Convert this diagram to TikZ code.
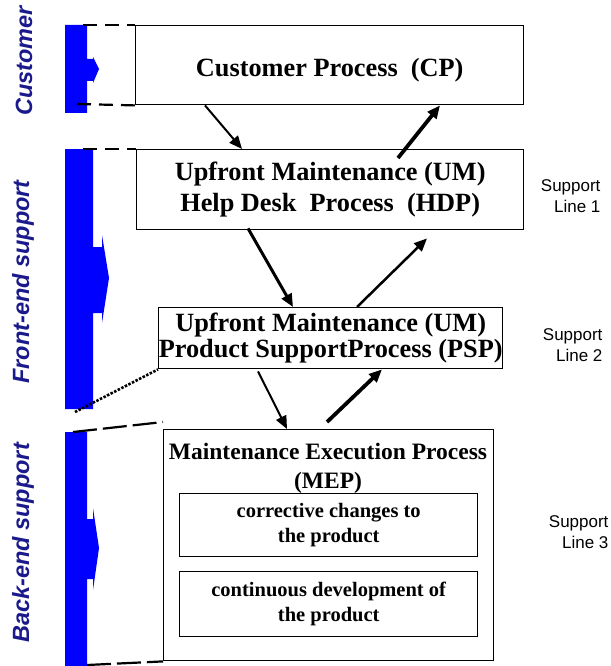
\documentclass[tikz,border=0pt]{standalone}
\usepackage{fontspec}
\setmainfont{Liberation Serif}
\newfontfamily\arialfont{Liberation Sans}
\usetikzlibrary{arrows.meta,calc}
\definecolor{barblue}{RGB}{0,0,255}
\definecolor{labelnavy}{RGB}{26,26,140}

\begin{document}
\begin{tikzpicture}[x=1pt,y=-1pt,
  procbox/.style={draw,line width=1.4pt,inner sep=0pt,anchor=north west,align=center},
  bigtext/.style={font=\bfseries\fontsize{26.3}{31}\selectfont},
  flow/.style={line width=#1,-{Triangle[length=13pt,width=11pt]}},
  phasebar/.style={fill=barblue,draw=none},
  phaselabel/.style={rotate=90,text=labelnavy,font=\arialfont\bfseries\itshape\fontsize{23.5}{26}\selectfont},
  linelabel/.style={align=right,anchor=east,font=\arialfont\fontsize{17}{21}\selectfont},
  bracketdash/.style={line width=2.2pt,dash pattern=on 14pt off 8pt},
  bracketlong/.style={line width=2.2pt,dash pattern=on 24pt off 6pt},
  bracketdot/.style={line width=2.6pt,dash pattern=on 2.5pt off 1.5pt}
]
\useasboundingbox (0,0) rectangle (610,666);

% process boxes
\node[procbox,bigtext,minimum width=388pt,minimum height=79pt] (cp) at (135,25)
  {\raisebox{-11.5pt}[0pt][0pt]{Customer Process\ \ (CP)}};
\node[procbox,bigtext,minimum width=387pt,minimum height=80pt] (hdp) at (136,149)
  {Upfront Maintenance (UM)\\Help Desk\ \ Process\ \ (HDP)};
\node[procbox,font=\bfseries\fontsize{26.3}{26.5}\selectfont,minimum width=344pt,minimum height=61pt] (psp) at (158,307)
  {Upfront Maintenance (UM)\\Product SupportProcess (PSP)};
\node[procbox,minimum width=330pt,minimum height=231pt] (mep) at (163,429) {};
\node[font=\bfseries\fontsize{23.5}{29}\selectfont,align=center] (meptitle) at (328,468)
  {Maintenance Execution Process\\(MEP)};
\node[procbox,font=\bfseries\fontsize{20.5}{24.5}\selectfont,minimum width=298pt,minimum height=63pt] (corr) at (179,493)
  {corrective changes to\\the product};
\node[procbox,font=\bfseries\fontsize{20.5}{24.5}\selectfont,minimum width=298pt,minimum height=65pt] (cont) at (179,571)
  {continuous development of\\the product};

% phase bars with their arrows
\fill[phasebar] (65,25) -- (87,25) -- (87,59) -- (93,59) -- (93,57) -- (99,69) -- (93,83)
  -- (93,81) -- (87,81) -- (87,113) -- (65,113) -- cycle;
\fill[phasebar] (65,149) -- (93,149) -- (93,247) -- (102,247) -- (102,235) -- (109,278) -- (102,323)
  -- (102,313) -- (93,313) -- (93,409) -- (65,409) -- cycle;
\fill[phasebar] (65,432) -- (87,432) -- (87,519) -- (93,519) -- (93,508) -- (99,548) -- (93,590)
  -- (93,579) -- (87,579) -- (87,666) -- (65,666) -- cycle;

\node[phaselabel] (lcust) at (24,61) {Customer};
\node[phaselabel] (lfront) at (23,282) {Front-end support};
\node[phaselabel] (lback) at (23,543) {Back-end support};

% bracket lines from the bars to the boxes
\coordinate (c1) at (83,25);
\coordinate (c2) at (77,104);
\coordinate (f1) at (83,149);
\coordinate (f2) at (75,412);
\coordinate (b1) at (73,432);
\coordinate (b2) at (87,665);
\coordinate (b1e) at (163,422);
\draw[bracketdash] (c1) -- (cp.north west);
\draw[bracketdash] (c2) -- (cp.south west);
\draw[bracketdash] (f1) -- (hdp.north west);
\draw[bracketdot] (f2) -- (psp.south west);
\draw[bracketlong] (b1) -- (b1e);
\draw[bracketlong] (b2) -- (mep.south west);

% flows between the processes
\coordinate (a1s) at ($(cp.south west)+(70,0)$);
\coordinate (a1e) at ($(hdp.north west)+(106,0)$);
\coordinate (a2s) at ($(hdp.north west)+(262,9)$);
\coordinate (a2e) at ($(cp.south west)+(305,0)$);
\coordinate (a3s) at ($(hdp.south west)+(112,-2)$);
\coordinate (a3e) at ($(psp.north west)+(135,0)$);
\coordinate (a4s) at ($(psp.north west)+(199,0)$);
\coordinate (a4e) at ($(hdp.south west)+(291,8)$);
\coordinate (a5s) at ($(psp.south west)+(100,2)$);
\coordinate (a5e) at ($(mep.north west)+(124,0)$);
\coordinate (a6s) at ($(mep.north west)+(164,-7)$);
\coordinate (a6e) at ($(psp.south west)+(224,0)$);
\draw[flow=2pt] (a1s) -- (a1e);
\draw[flow=3.8pt] (a2s) -- (a2e);
\draw[flow=3pt] (a3s) -- (a3e);
\draw[flow=2.5pt] (a4s) -- (a4e);
\draw[flow=2pt] (a5s) -- (a5e);
\draw[flow=3.8pt] (a6s) -- (a6e);

% support line labels
\node[linelabel] (sl1) at (604,196) {Support\\Line 1};
\node[linelabel] (sl2) at (606,345) {Support\\Line 2};
\node[linelabel] (sl3) at (612,532) {Support\\Line 3};
\end{tikzpicture}
\end{document}
